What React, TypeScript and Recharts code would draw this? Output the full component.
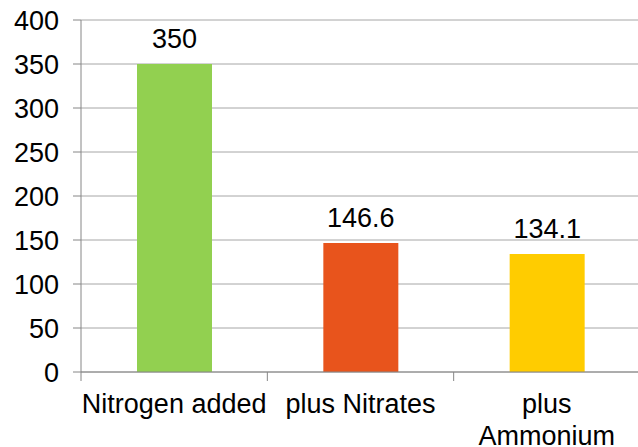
import { Bar, BarChart, CartesianGrid, Cell, LabelList, XAxis, YAxis } from 'recharts';

const CATEGORIES = ['Nitrogen added', 'plus Nitrates', 'plus Ammonium'];
const CATEGORY_LINES = [['Nitrogen added'], ['plus Nitrates'], ['plus', 'Ammonium']];
const NITROGEN = [350, 146.6, 134.1];
const BAR_COLORS = ['#92D050', '#E8541C', '#FFCC00'];
const Y_TICKS = [0, 50, 100, 150, 200, 250, 300, 350, 400];

const data = CATEGORIES.map((name, i) => ({ name, value: NITROGEN[i] }));

const WIDTH = 640;
const HEIGHT = 447;
const Y_AXIS_W = 81;
const BAND = (WIDTH - Y_AXIS_W) / CATEGORIES.length;
const FONT = '"Liberation Sans", Arial, sans-serif';
const FONT_SIZE = 27;
const AXIS_COLOR = '#868686';

// Category ticks sit on the band boundaries, not the band centres,
// so the tick marks are drawn by hand next to the wrapped labels.
function CategoryTick(props: any) {
  const { x, y, payload } = props;
  const i = CATEGORIES.indexOf(payload.value);
  const lines = CATEGORY_LINES[i] ?? [payload.value];
  const left = x - BAND / 2;
  return (
    <g>
      <line x1={left} x2={left} y1={y} y2={y + 9} stroke={AXIS_COLOR} />
      {i === CATEGORIES.length - 1 && (
        <line x1={left + BAND} x2={left + BAND} y1={y} y2={y + 9} stroke={AXIS_COLOR} />
      )}
      <text textAnchor="middle" fontFamily={FONT} fontSize={FONT_SIZE} fill="#000">
        {lines.map((l, k) => (
          <tspan key={k} x={x} y={y + 41 + k * 32}>
            {l}
          </tspan>
        ))}
      </text>
    </g>
  );
}

export default function App() {
  return (
    <div
      style={{
        position: 'absolute',
        left: 0,
        top: 0,
        width: 638,
        height: HEIGHT,
        overflow: 'hidden',
        background: '#fff',
      }}
    >
      <BarChart
        width={WIDTH}
        height={HEIGHT}
        data={data}
        margin={{ top: 20, right: 0, bottom: 0, left: 0 }}
      >
        <CartesianGrid vertical={false} stroke="#a6a6a6" />
        <XAxis
          dataKey="name"
          height={75}
          interval={0}
          tickLine={false}
          tickSize={0}
          tickMargin={0}
          axisLine={{ stroke: AXIS_COLOR }}
          tick={<CategoryTick />}
        />
        <YAxis
          width={Y_AXIS_W}
          domain={[0, 400]}
          ticks={Y_TICKS}
          interval={0}
          tickSize={8}
          tickMargin={14}
          tickLine={{ stroke: AXIS_COLOR }}
          axisLine={{ stroke: AXIS_COLOR }}
          tick={{ fill: '#000', fontSize: FONT_SIZE, fontFamily: FONT }}
        />
        <Bar dataKey="value" barSize={75} isAnimationActive={false}>
          {data.map((d, i) => (
            <Cell key={d.name} fill={BAR_COLORS[i]} />
          ))}
          <LabelList
            dataKey="value"
            position="top"
            offset={16}
            fill="#000"
            fontSize={FONT_SIZE}
            fontFamily={FONT}
          />
        </Bar>
      </BarChart>
    </div>
  );
}
